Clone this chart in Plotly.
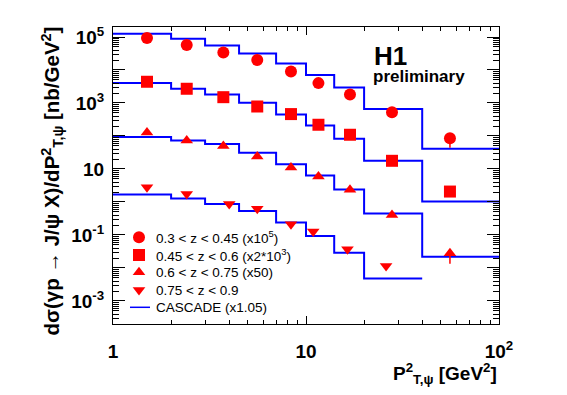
import plotly.graph_objects as go

# ---------------- data ----------------
bin_edges = [1, 2, 3, 4.5, 7, 10, 14, 20, 40, 100]
bin_edges_low = [1, 2, 3, 4.5, 7, 10, 14, 20, 40]

# data points (x positions, values)
x_pts = [1.5, 2.41, 3.73, 5.59, 8.36, 11.6, 16.9, 27.9, 55.7]
x_pts_z4 = [1.5, 2.41, 4.0, 5.59, 8.36, 10.9, 16.4, 26.0]

circ_vals = [9.3e4, 5.7e4, 3.4e4, 2.0e4, 9.0e3, 4.0e3, 1.8e3, 525, 86]
circ_err = [0, 0, 0, 0, 0, 0, 0, 0, 42]
sq_vals = [4.4e3, 2.7e3, 1.5e3, 783, 461, 219, 109, 17.7, 2.07]
sq_err = [0, 0, 0, 0, 0, 0, 0, 0, 0]
tri_vals = [128, 73, 50, 23.9, 11.1, 5.9, 2.33, 0.40, 0.028]
tri_err = [0, 0, 0, 0, 0, 0, 0, 0, 0.0146]
tdn_vals = [2.8, 1.73, 0.875, 0.62, 0.21, 0.127, 0.037, 0.0115]
tdn_err = [0, 0, 0, 0, 0, 0, 0, 0]

# CASCADE step levels (per bin)
casc_circ = [1.26e5, 8.9e4, 5.56e4, 3.18e4, 1.58e4, 7.0e3, 2.95e3, 653, 40.8]
casc_sq = [4.0e3, 2.7e3, 1.8e3, 1.02e3, 447, 208, 82, 17.7, 1.03]
casc_tri = [92.5, 73, 56.8, 31, 14, 6.3, 2.38, 0.445, 0.022]
casc_tdn = [1.68, 1.27, 0.875, 0.537, 0.237, 0.093, 0.029, 0.0048]

legend_labels = [
    "0.3 < z < 0.45 (x10<sup>5</sup>)",
    "0.45 < z < 0.6 (x2*10<sup>3</sup>)",
    "0.6 < z < 0.75 (x50)",
    "0.75 < z < 0.9",
    "CASCADE (x1.05)",
]
legend_symbols = ["circle", "square", "triangle-up", "triangle-down"]

y_tick_vals = [1e-3, 1e-2, 1e-1, 1, 10, 1e2, 1e3, 1e4, 1e5]
y_tick_text = ["10<sup>-3</sup>", "", "10<sup>-1</sup>", "", "10", "", "10<sup>3</sup>", "", "10<sup>5</sup>"]
x_tick_vals = [1, 10, 100]
x_tick_text = ["1", "10", "10<sup>2</sup>"]

RED = "#ff0000"
BLUE = "#0000ff"
FONT = "Liberation Sans"

# plot-area geometry in window pixels (for placing texts)
L, R, T, B = 113, 499, 27, 324
OFF = 8  # page body margin of the html page
W, H = 567, 395


def px(xp):
    return (xp - L) / (R - L)


def py(yp):
    return (B - yp) / (B - T)


fig = go.Figure()

# CASCADE histograms
for lv, edges in [(casc_circ, bin_edges), (casc_sq, bin_edges), (casc_tri, bin_edges), (casc_tdn, bin_edges_low)]:
    fig.add_trace(go.Scatter(
        x=edges, y=list(lv) + [lv[-1]], mode="lines", line=dict(color=BLUE, width=2, shape="hv"),
        showlegend=False, hoverinfo="skip"))

# data points
for xs, vals, errs, sym, size in [
    (x_pts, circ_vals, circ_err, "circle", 12),
    (x_pts, sq_vals, sq_err, "square", 12),
    (x_pts, tri_vals, tri_err, "triangle-up", 11),
    (x_pts_z4, tdn_vals, tdn_err, "triangle-down", 11),
]:
    fig.add_trace(go.Scatter(
        x=xs, y=vals, mode="markers",
        marker=dict(symbol=sym, size=size, color=RED, line=dict(width=0)),
        error_y=dict(type="data", symmetric=False, array=[0] * len(errs), arrayminus=errs,
                     visible=True, color=RED, thickness=1.5, width=0),
        showlegend=False))

# manual legend on an overlay axis (0..1 over the plot area)
leg_rows = [237.3, 255, 272.3, 290, 307.3]
leg_y = [py(v) for v in leg_rows]
leg_x = px(139)
for i, sym in enumerate(legend_symbols):
    fig.add_trace(go.Scatter(
        x=[leg_x], y=[leg_y[i]], xaxis="x2", yaxis="y2", mode="markers",
        marker=dict(symbol=sym, size=12 if i < 2 else 11, color=RED, line=dict(width=0)),
        showlegend=False, hoverinfo="skip"))
fig.add_trace(go.Scatter(
    x=[px(130), px(150)], y=[leg_y[4], leg_y[4]], xaxis="x2", yaxis="y2", mode="lines",
    line=dict(color=BLUE, width=1.5), showlegend=False, hoverinfo="skip"))

for i, lab in enumerate(legend_labels):
    fig.add_annotation(x=px(154), y=leg_y[i], xref="paper", yref="paper", text=lab,
                       showarrow=False, xanchor="left", yanchor="middle",
                       font=dict(family=FONT, size=13.5, color="black"))

# H1 preliminary
fig.add_annotation(x=px(372), y=py(56), xref="paper", yref="paper",
                   text="<b>H1</b>", showarrow=False, xanchor="left", yanchor="middle",
                   font=dict(family=FONT, size=26, color="black"))
fig.add_annotation(x=px(371), y=py(76), xref="paper", yref="paper",
                   text="<b>preliminary</b>", showarrow=False, xanchor="left", yanchor="middle",
                   font=dict(family=FONT, size=17, color="black"))

# axis titles
fig.add_annotation(x=px(499), y=py(373), xref="paper", yref="paper",
                   text="<b>P<sup>2</sup><sub>T,ψ</sub> [GeV<sup>2</sup>]</b>", showarrow=False,
                   xanchor="right", yanchor="middle",
                   font=dict(family=FONT, size=19, color="black"))
fig.add_annotation(x=px(52), y=py(25), xref="paper", yref="paper",
                   text="<b>dσ(γp → J/ψ X)/dP<sup>2</sup><sub>T,ψ</sub> [nb/GeV<sup>2</sup>]</b>",
                   showarrow=False, textangle=-90, xanchor="center", yanchor="top",
                   font=dict(family=FONT, size=20.5, color="black"))

x_minor = [m * 10 ** d for d in range(0, 2) for m in range(2, 10)]
y_minor = [m * 10.0 ** d for d in range(-4, 6) for m in range(2, 10)]

fig.update_layout(
    width=W, height=H,
    margin=dict(l=L - OFF, r=W - R + OFF, t=T - OFF, b=H - B + OFF),
    paper_bgcolor="white", plot_bgcolor="white",
    showlegend=False,
    xaxis=dict(type="log", range=[0, 2], showgrid=False, zeroline=False, automargin=False,
               showline=True, linecolor="black", linewidth=1, mirror="allticks",
               ticks="inside", ticklen=8, tickcolor="black",
               tickmode="array", tickvals=x_tick_vals, ticktext=x_tick_text,
               tickfont=dict(family=FONT, size=19, color="black", weight="bold"),
               ticklabelstandoff=10,
               minor=dict(ticks="inside", ticklen=4, tickcolor="black", tickmode="array",
                          tickvals=x_minor, showgrid=False)),
    yaxis=dict(type="log", range=[-3.698, 5.303], showgrid=False, zeroline=False, automargin=False,
               showline=True, linecolor="black", linewidth=1, mirror="allticks",
               ticks="inside", ticklen=12, tickcolor="black",
               tickmode="array", tickvals=y_tick_vals, ticktext=y_tick_text,
               tickfont=dict(family=FONT, size=19, color="black", weight="bold"),
               ticklabelstandoff=4,
               minor=dict(ticks="inside", ticklen=6, tickcolor="black", tickmode="array",
                          tickvals=y_minor, showgrid=False)),
    xaxis2=dict(overlaying="x", range=[0, 1], visible=False, automargin=False),
    yaxis2=dict(overlaying="y", range=[0, 1], visible=False, automargin=False),
)

fig.write_html("out.html")
